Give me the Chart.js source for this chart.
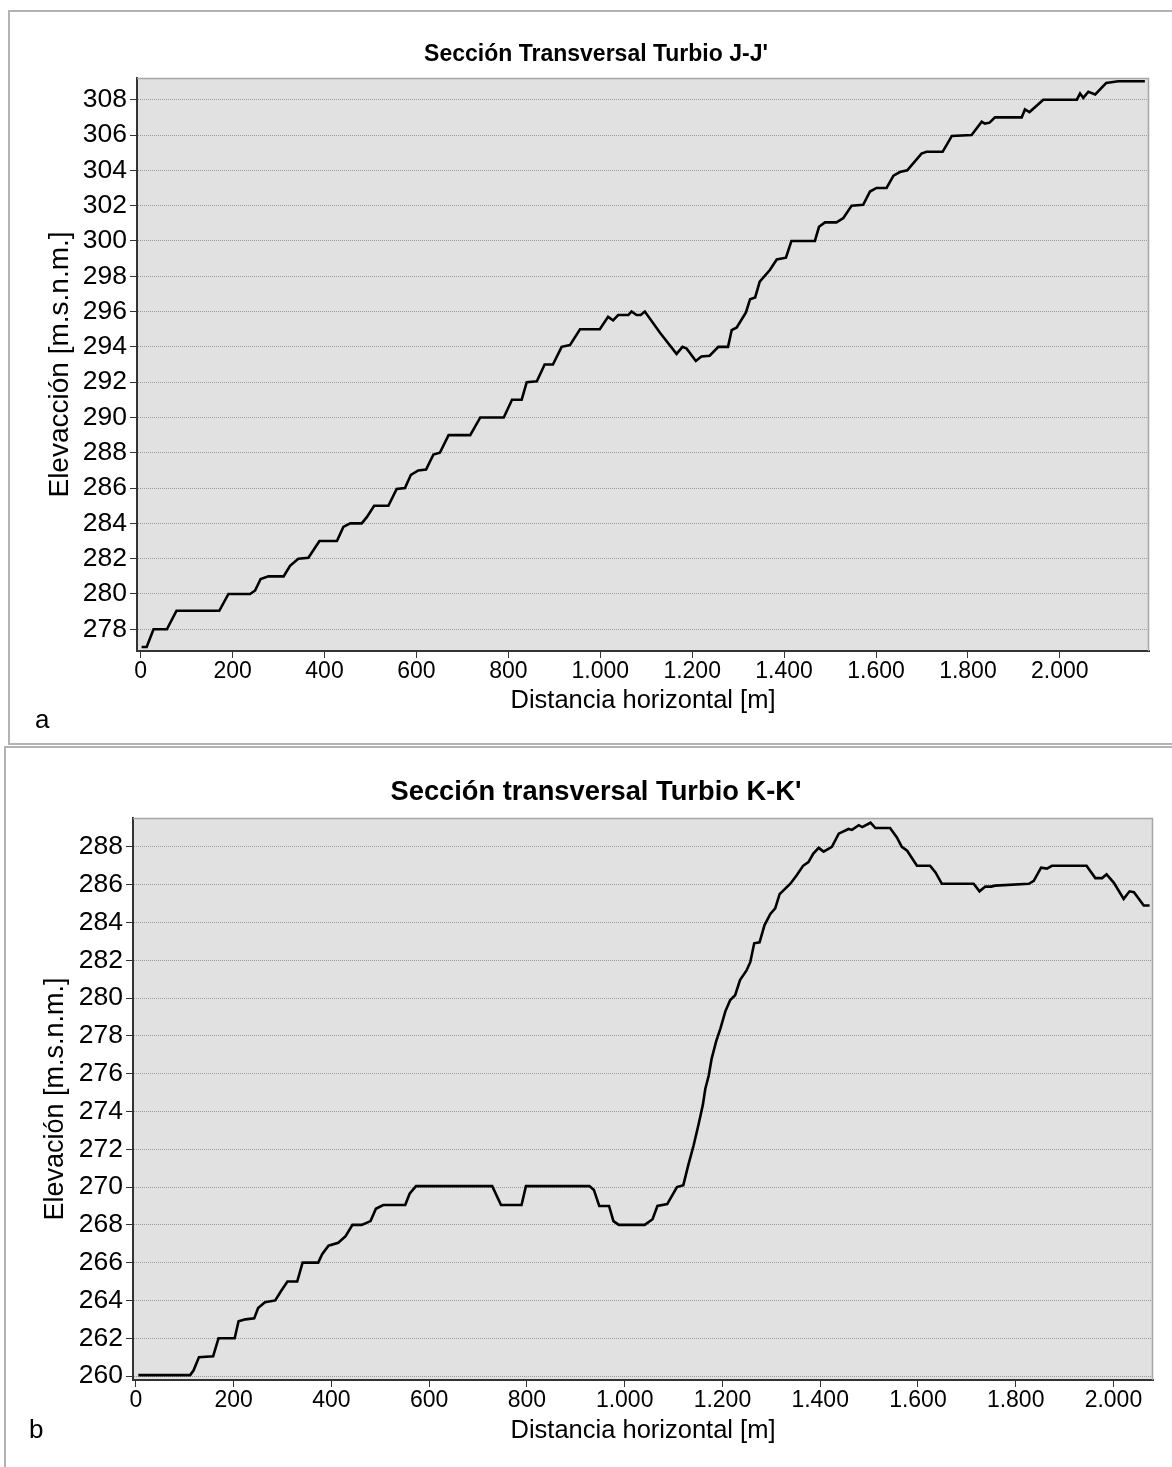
<!DOCTYPE html>
<html>
<head>
<meta charset="utf-8">
<script src="https://cdn.jsdelivr.net/npm/chart.js@4.4.0/dist/chart.umd.min.js"></script>
<style>
  body { margin: 0; background: #fff; width: 1172px; height: 1467px; overflow: hidden; position: relative;
         font-family: "Liberation Sans", Arial, sans-serif; }
  .panel { position: absolute; border: 2px solid #b3b3b3; box-sizing: border-box; }
  #p1 { left: 8px; top: 10px; width: 1180px; height: 735px; }
  #p2 { left: 4px; top: 746px; width: 1184px; height: 740px; }
  canvas { position: absolute; left: 0; }
  #chartJ { top: 0; }
  #chartK { top: 745px; }
  .tag { position: absolute; font-size: 26px; line-height: 26px; color: #000; }
</style>
</head>
<body>
<div class="panel" id="p1"></div>
<div class="panel" id="p2"></div>
<canvas id="chartJ" width="1172" height="745"></canvas>
<canvas id="chartK" width="1172" height="722"></canvas>
<div class="tag" style="left:35px;top:706px">a</div>
<div class="tag" style="left:29px;top:1416px">b</div>

<script>
// Sección J-J'
const distJ = [2,13,28,57,78,171,191,238,249,261,278,311,325,343,365,389,427,441,456,481,492,508,539,557,575,588,604,621,637,651,670,717,739,790,808,829,840,862,879,897,916,934,956,999,1017,1028,1039,1061,1068,1079,1088,1097,1130,1166,1179,1188,1208,1220,1238,1257,1278,1286,1297,1317,1326,1337,1347,1369,1384,1404,1416,1467,1476,1489,1514,1529,1547,1572,1587,1601,1623,1638,1652,1668,1699,1710,1745,1765,1808,1830,1837,1847,1859,1917,1924,1934,1964,2037,2044,2051,2062,2077,2101,2127,2185];
const elevJ = [277,277,278,278,279.05,279.05,280,280,280.2,280.85,281,281,281.6,282,282.05,283,283,283.8,284,284,284.35,285,285,285.95,286,286.75,287,287.05,287.9,288,289,289,290,290,291,291,292,292.05,293,293,294,294.1,295,295,295.7,295.5,295.8,295.8,296,295.8,295.8,296,294.8,293.6,294,293.9,293.2,293.45,293.5,294,294,294.95,295.1,295.95,296.7,296.8,297.7,298.35,298.95,299.05,300,300,300.8,301.05,301.05,301.3,302,302.05,302.8,303,303,303.7,303.9,304,304.95,305.05,305.05,305.95,306,306.75,306.65,306.7,307,307,307.45,307.3,308,308,308.35,308.1,308.45,308.3,308.95,309.05,309.05];

// Sección K-K'
const distK = [5,111,118,129,158,169,202,210,224,242,250,264,285,297,310,330,341,373,381,394,414,429,443,462,480,491,506,551,560,573,729,747,789,798,928,937,948,968,977,988,1041,1057,1067,1087,1107,1120,1130,1141,1151,1160,1165,1172,1178,1187,1196,1206,1216,1226,1236,1249,1257,1265,1276,1286,1298,1308,1317,1339,1352,1365,1376,1386,1397,1407,1424,1438,1458,1465,1479,1486,1503,1513,1543,1557,1567,1578,1598,1625,1636,1649,1714,1726,1738,1750,1758,1827,1837,1852,1864,1874,1945,1963,1977,1986,2001,2021,2033,2042,2062,2074];
const elevK = [260.05,260.05,260.3,261,261.05,262,262,262.9,263,263.05,263.6,263.9,264,264.5,265,265,266,266,266.45,266.9,267.05,267.4,268,268,268.2,268.85,269.05,269.05,269.65,270.05,270.05,269.05,269.05,270.05,270.05,269.85,269,269,268.2,268,268,268.3,269,269.1,270,270.1,271.15,272.2,273.3,274.35,275.2,275.9,276.8,277.7,278.4,279.3,279.9,280.15,280.95,281.45,281.9,282.9,282.95,283.85,284.45,284.75,285.5,286.05,286.5,287,287.2,287.65,287.95,287.75,288,288.7,288.95,288.9,289.15,289.05,289.28,289,289,288.5,288,287.8,287,287,286.65,286.05,286.05,285.65,285.9,285.9,285.95,286.05,286.2,286.9,286.85,287,287,286.35,286.35,286.55,286.1,285.25,285.65,285.6,284.9,284.9];

// tick values
const xTicks = [0,200,400,600,800,1000,1200,1400,1600,1800,2000];
const yTicksJ = [278,280,282,284,286,288,290,292,294,296,298,300,302,304,306,308];
const yTicksK = [260,262,264,266,268,270,272,274,276,278,280,282,284,286,288];

const titleJ = "Sección Transversal Turbio J-J'";
const titleK = "Sección transversal Turbio K-K'";
const yLabelJ = 'Elevacción [m.s.n.m.]';
const yLabelK = 'Elevación [m.s.n.m.]';
const xLabel = 'Distancia horizontal [m]';

const FONT = '"Liberation Sans", Arial, sans-serif';

// 1.000, 1.200 ...
function miles(v) {
  if (v < 1000) return String(v);
  return Math.floor(v / 1000) + '.' + String(v % 1000).padStart(3, '0');
}

// plot background + light top/right frame + title
const panelPlugin = {
  id: 'panel',
  beforeDraw(chart) {
    const a = chart.chartArea, ctx = chart.ctx;
    ctx.save();
    ctx.fillStyle = '#e1e1e1';
    ctx.fillRect(a.left, a.top, a.right - a.left, a.bottom - a.top);
    ctx.restore();
  },
  afterDraw(chart, args, opts) {
    const a = chart.chartArea, ctx = chart.ctx;
    ctx.save();
    ctx.strokeStyle = '#a6a6a6';
    ctx.lineWidth = 1.5;
    ctx.beginPath();
    ctx.moveTo(a.left, a.top + 0.5);
    ctx.lineTo(a.right - 0.5, a.top + 0.5);
    ctx.lineTo(a.right - 0.5, a.bottom);
    ctx.stroke();
    ctx.fillStyle = '#000';
    ctx.textAlign = 'center';
    ctx.textBaseline = 'middle';
    ctx.font = 'bold ' + opts.size + 'px ' + FONT;
    ctx.fillText(opts.text, opts.x, opts.y);
    ctx.restore();
  }
};

function makeChart(id, dist, elev, cfg) {
  const points = dist.map((d, i) => ({ x: d, y: elev[i] }));
  return new Chart(document.getElementById(id), {
    type: 'line',
    data: {
      datasets: [{
        data: points,
        borderColor: '#000',
        borderWidth: 2.6,
        pointRadius: 0,
        tension: 0,
        fill: false
      }]
    },
    options: {
      responsive: false,
      animation: false,
      layout: { padding: { left: 0, top: cfg.top, right: cfg.right, bottom: 0 } },
      plugins: {
        legend: { display: false },
        tooltip: { enabled: false },
        panel: { text: cfg.title, x: 596, y: cfg.titleY, size: cfg.titleSize }
      },
      scales: {
        x: {
          type: 'linear',
          min: cfg.xMin, max: cfg.xMax,
          afterBuildTicks(s) { s.ticks = xTicks.map(v => ({ value: v })); },
          afterFit(s) { s.height = cfg.xHeight; },
          grid: { drawOnChartArea: false, drawTicks: true, tickLength: 7, tickColor: '#333', tickWidth: 1 },
          border: { display: true, color: '#333', width: 2 },
          ticks: {
            autoSkip: false, maxRotation: 0,
            padding: 0, color: '#000', font: { family: FONT, size: 23 },
            callback: v => miles(v)
          },
          title: {
            display: true, text: xLabel, color: '#000',
            font: { family: FONT, size: 25.5 },
            padding: { top: 0, bottom: cfg.xTitlePad }
          }
        },
        y: {
          min: cfg.yMin, max: cfg.yMax,
          afterBuildTicks(s) { s.ticks = cfg.yTicks.map(v => ({ value: v })); },
          afterFit(s) { s.width = cfg.yWidth; },
          grid: { color: '#9a9a9a', lineWidth: 1, drawTicks: true, tickLength: 7,
                  tickColor: '#333', tickWidth: 1, tickBorderDash: [] },
          border: { display: true, color: '#333', width: 2, dash: [1, 1] },
          ticks: {
            autoSkip: false,
            padding: 3, color: '#000', font: { family: FONT, size: 26.5 }
          },
          title: {
            display: true, text: cfg.yLabel, color: '#000',
            font: { family: FONT, size: cfg.yTitleSize },
            padding: { top: cfg.yTitlePad, bottom: 0 }
          }
        }
      }
    },
    plugins: [panelPlugin]
  });
}

makeChart('chartJ', distJ, elevJ, {
  title: titleJ, titleY: 55, titleSize: 23,
  top: 78, right: 23, xHeight: 94, yWidth: 137,
  xMin: -8, xMax: 2194, yMin: 276.77, yMax: 309.23, yTicks: yTicksJ,
  xTitlePad: 28.7, yTitlePad: 43.2, yTitleSize: 28, yLabel: yLabelJ
});

makeChart('chartK', distK, elevK, {
  title: titleK, titleY: 47, titleSize: 27.3,
  top: 73, right: 19, xHeight: 87, yWidth: 133,
  xMin: -6, xMax: 2081, yMin: 259.79, yMax: 289.53, yTicks: yTicksK,
  xTitlePad: 20.7, yTitlePad: 39.8, yTitleSize: 27, yLabel: yLabelK
});
</script>
</body>
</html>
